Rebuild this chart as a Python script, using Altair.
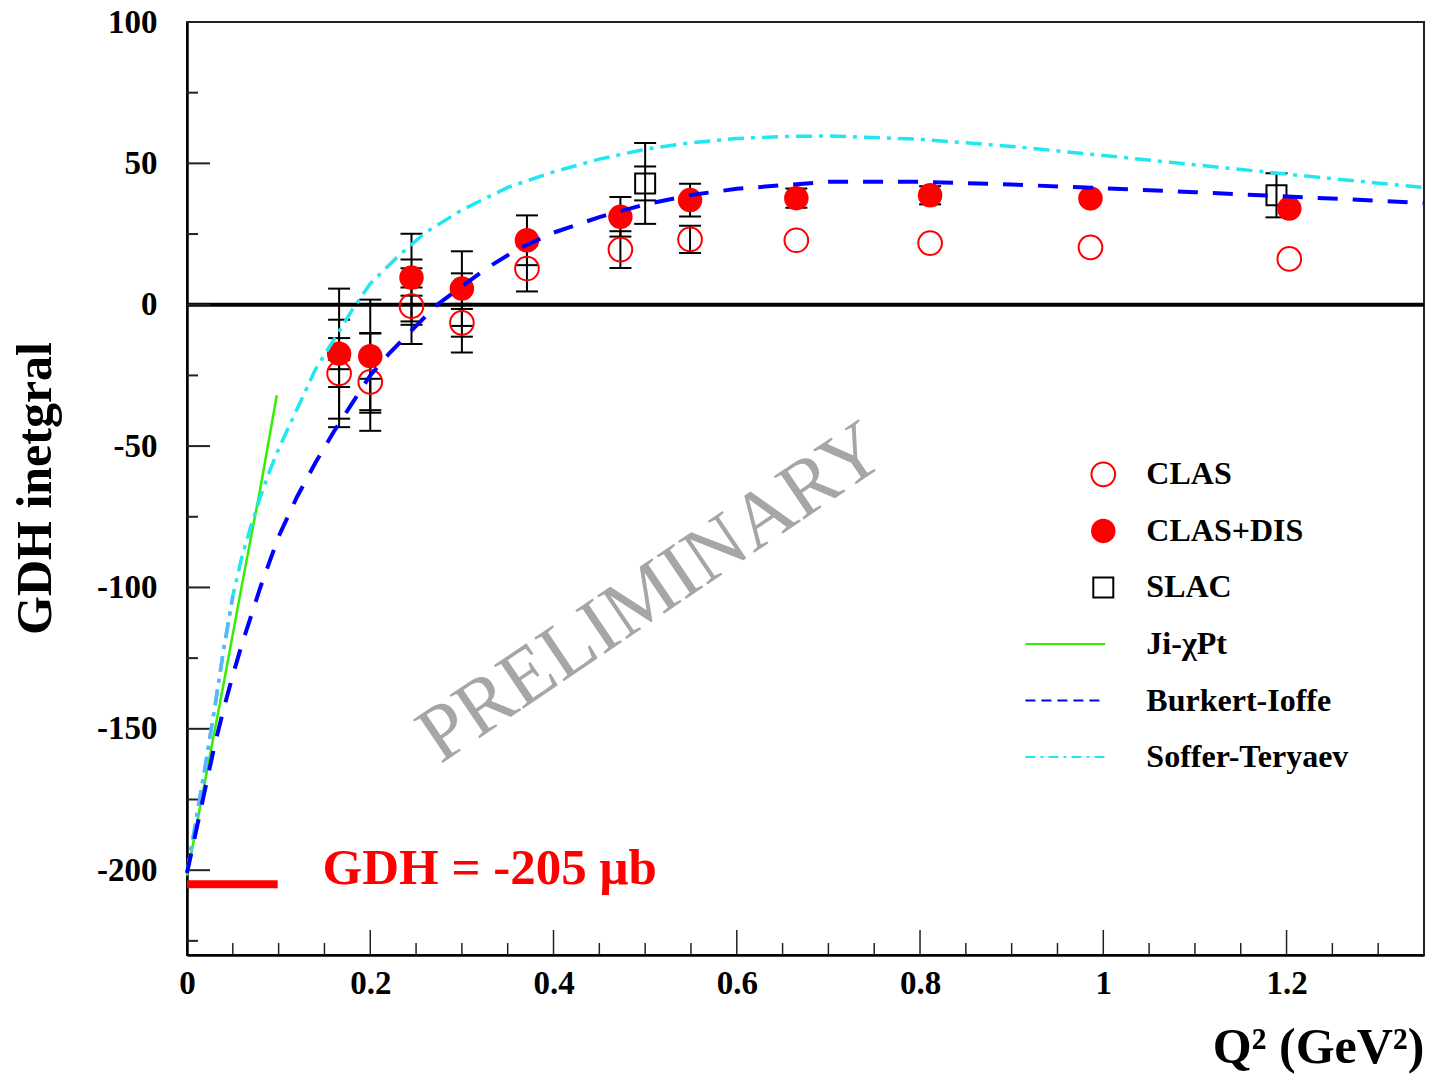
import altair as alt
import pandas as pd

# ---------------- data ----------------
q2_clas = [0.166, 0.200, 0.245, 0.300, 0.371, 0.473, 0.549, 0.665, 0.811, 0.986, 1.203]
gdh_clas = [-24.3, -27.3, -0.5, -6.4, 12.8, 19.5, 23.1, 22.8, 21.8, 20.3, 16.2]
err_clas_tot = [19.0, 17.3, 13.4, 10.5, 8.1, 6.5, 4.8, 0, 0, 0, 0]
err_clas_stat = [4.8, 10.0, 6.6, 4.9, 0, 0, 0, 0, 0, 0, 0]

gdh_dis = [-17.3, -18.2, 9.6, 5.7, 22.8, 31.1, 37.0, 37.7, 38.7, 37.6, 34.0]
err_dis_tot = [23.0, 20.0, 15.5, 13.2, 8.8, 7.0, 5.8, 3.4, 3.2, 0, 0]
err_dis_stat = [5.5, 8.0, 6.4, 5.4, 0, 0, 0, 0, 0, 0, 0]

q2_slac = [0.500, 1.189]
gdh_slac = [42.9, 38.7]
err_slac_tot = [14.3, 7.8]
err_slac_stat = [6.0, 0]

q2_bi = [0, 0.01, 0.02, 0.03, 0.04, 0.05, 0.06, 0.08, 0.10, 0.12, 0.14, 0.16, 0.18,
         0.20, 0.22, 0.25, 0.273, 0.30, 0.33, 0.36, 0.40, 0.45, 0.50, 0.55, 0.60,
         0.70, 0.80, 0.90, 1.00, 1.10, 1.20, 1.30, 1.35]
gdh_bi = [-201, -186, -171, -156, -143, -131, -120, -100, -82, -68, -56, -45, -35,
          -25, -17.5, -7.5, 0, 6.5, 13.5, 19.5, 25.5, 31, 35.5, 38.8, 41,
          43.5, 43.5, 42.5, 41.2, 39.8, 38.3, 36.8, 36]

q2_st = [0, 0.01, 0.02, 0.03, 0.04, 0.05, 0.06, 0.07, 0.08, 0.09, 0.10, 0.12, 0.14,
         0.16, 0.18, 0.20, 0.23, 0.26, 0.30, 0.35, 0.40, 0.45, 0.50, 0.55, 0.60,
         0.65, 0.70, 0.80, 0.90, 1.00, 1.10, 1.20, 1.30, 1.35]
gdh_st = [-201, -182, -163, -143, -122, -103, -89, -78, -68, -59, -51, -37, -23,
          -12.5, -2, 7.5, 17, 25.5, 33.5, 41.5, 47, 51.5, 55, 57.3, 58.8,
          59.5, 59.7, 58.5, 56, 52.8, 49.5, 46.2, 43, 41.5]

q2_ji = [0, 0.02, 0.04, 0.06, 0.08, 0.098]
gdh_ji = [-202, -168, -134, -99, -65, -32]

gdh_sum = -205
gdh_sum_q2 = [0, 0.099]

x_major = [0, 0.2, 0.4, 0.6, 0.8, 1.0, 1.2]
x_minor = [k / 20 for k in range(1, 27) if k % 4 != 0]
y_major = [-200, -150, -100, -50, 0, 50, 100]
y_minor = [-225, -175, -125, -75, -25, 25, 75]

legend_labels = ["CLAS", "CLAS+DIS", "SLAC", "Ji-\u03c7Pt", "Burkert-Ioffe", "Soffer-Teryaev"]

# ---------------- layout ----------------
W, H = 1237, 933
FONT = "Liberation Serif"
xs = alt.Scale(domain=[0, 1.35], nice=False, zero=False)
ys = alt.Scale(domain=[-230, 100], nice=False, zero=False)

AX_X = alt.Axis(values=x_major, labelExpr="toString(datum.value)", labelFlush=False,
                title="Q\u00b2 (GeV\u00b2)",
                titleX=W, titleY=107, titleAlign="right", titleBaseline="alphabetic")
AX_Y = alt.Axis(values=y_major, labelExpr="toString(datum.value)", labelFlush=False,
                title="GDH inetgral",
                titleX=-137, titleY=466, titleAngle=270, titleAlign="center",
                titleBaseline="alphabetic")


def X(f):
    return alt.X(f, type="quantitative", scale=xs, axis=AX_X)


def Y(f):
    return alt.Y(f, type="quantitative", scale=ys, axis=AX_Y)


# error bars
def err_rows(q, y, e):
    return [dict(x=a, lo=b - c, hi=b + c) for a, b, c in zip(q, y, e) if c > 0]


bars = pd.DataFrame(err_rows(q2_clas, gdh_clas, err_clas_tot)
                    + err_rows(q2_clas, gdh_dis, err_dis_tot)
                    + err_rows(q2_slac, gdh_slac, err_slac_tot))
inner = pd.DataFrame(err_rows(q2_clas, gdh_clas, err_clas_stat)
                     + err_rows(q2_clas, gdh_dis, err_dis_stat)
                     + err_rows(q2_slac, gdh_slac, err_slac_stat))
caps_src = pd.concat([bars, inner])
caps = pd.concat([caps_src[["x"]].assign(y=caps_src["lo"]),
                  caps_src[["x"]].assign(y=caps_src["hi"])])

clas = pd.DataFrame({"x": q2_clas, "y": gdh_clas})
dis = pd.DataFrame({"x": q2_clas, "y": gdh_dis})
slac = pd.DataFrame({"x": q2_slac, "y": gdh_slac})
bi = pd.DataFrame({"x": q2_bi, "y": gdh_bi})
st = pd.DataFrame({"x": q2_st, "y": gdh_st})
ji = pd.DataFrame({"x": q2_ji, "y": gdh_ji})

layers = []

# zero line
layers.append(alt.Chart(pd.DataFrame({"y": [0]})).mark_rule(color="black", strokeWidth=4)
              .encode(y=Y("y"), x=alt.value(0), x2=alt.value(W)))

# inward ticks
layers.append(alt.Chart(pd.DataFrame({"t": x_major[1:]})).mark_rule(color="#222", strokeWidth=1.5)
              .encode(x=X("t"), y=alt.value(H), y2=alt.value(H - 25)))
layers.append(alt.Chart(pd.DataFrame({"t": x_minor})).mark_rule(color="#222", strokeWidth=1.5)
              .encode(x=X("t"), y=alt.value(H), y2=alt.value(H - 12)))
layers.append(alt.Chart(pd.DataFrame({"t": y_major})).mark_rule(color="#222", strokeWidth=2)
              .encode(y=Y("t"), x=alt.value(0), x2=alt.value(23)))
layers.append(alt.Chart(pd.DataFrame({"t": y_minor})).mark_rule(color="#222", strokeWidth=2)
              .encode(y=Y("t"), x=alt.value(0), x2=alt.value(11)))

# GDH sum rule bar
layers.append(alt.Chart(pd.DataFrame({"x": gdh_sum_q2[:1], "x2": gdh_sum_q2[1:], "y": [gdh_sum]}))
              .mark_rule(color="#ff0000", strokeWidth=8)
              .encode(x=X("x"), x2="x2", y=Y("y")))

# error bars
layers.append(alt.Chart(bars).mark_rule(color="black", strokeWidth=2)
              .encode(x=X("x"), y=Y("lo"), y2="hi"))
layers.append(alt.Chart(caps).mark_tick(orient="horizontal", size=22, thickness=2,
                                        color="black", opacity=1)
              .encode(x=X("x"), y=Y("y")))

# markers
layers.append(alt.Chart(slac).mark_point(shape="square", filled=False, size=400,
                                         stroke="black", strokeWidth=2, opacity=1)
              .encode(x=X("x"), y=Y("y")))
layers.append(alt.Chart(clas).mark_point(shape="circle", filled=False, size=560,
                                         stroke="#ff0000", strokeWidth=2, opacity=1)
              .encode(x=X("x"), y=Y("y")))
layers.append(alt.Chart(dis).mark_circle(size=600, color="#ff0000", opacity=1)
              .encode(x=X("x"), y=Y("y")))

# theory curves
layers.append(alt.Chart(ji).mark_line(color="#33ee00", strokeWidth=2.5)
              .encode(x=X("x"), y=Y("y")))
layers.append(alt.Chart(st).mark_line(color="#22e6f0", strokeWidth=3.5, strokeDash=[16, 7, 4, 7])
              .encode(x=X("x"), y=Y("y")))
layers.append(alt.Chart(st).transform_filter("datum.x <= 0.05")
              .mark_line(color="#5ab4ff", strokeWidth=3.5, strokeDash=[16, 7, 4, 7])
              .encode(x=X("x"), y=Y("y")))
layers.append(alt.Chart(bi).mark_line(color="#0000ff", strokeWidth=4, strokeDash=[20, 15])
              .encode(x=X("x"), y=Y("y")))

# annotations
layers.append(alt.Chart(pd.DataFrame({"x": [0.148], "y": [gdh_sum], "t": ["GDH = -205 \u03bcb"]}))
              .mark_text(align="left", baseline="alphabetic", font=FONT, fontSize=51,
                         fontWeight="bold", color="#ff0000")
              .encode(x=X("x"), y=Y("y"), text="t:N"))
layers.append(alt.Chart(pd.DataFrame({"x": [0.507], "y": [-102], "t": ["PRELIMINARY"]}))
              .mark_text(align="center", baseline="middle", font=FONT, fontSize=80,
                         angle=326, color="#a6a6a6")
              .encode(x=X("x"), y=Y("y"), text="t:N"))

# legend (drawn inside the frame)
leg_y = [-60, -80, -100, -120, -140, -160]
leg_mx, leg_tx, leg_l0, leg_l1 = 1.0, 1.047, 0.915, 1.002
layers.append(alt.Chart(pd.DataFrame({"x": [leg_mx], "y": [leg_y[0]]}))
              .mark_point(shape="circle", filled=False, size=560, stroke="#ff0000",
                          strokeWidth=2, opacity=1).encode(x=X("x"), y=Y("y")))
layers.append(alt.Chart(pd.DataFrame({"x": [leg_mx], "y": [leg_y[1]]}))
              .mark_circle(size=600, color="#ff0000", opacity=1).encode(x=X("x"), y=Y("y")))
layers.append(alt.Chart(pd.DataFrame({"x": [leg_mx], "y": [leg_y[2]]}))
              .mark_point(shape="square", filled=False, size=400, stroke="black",
                          strokeWidth=2, opacity=1).encode(x=X("x"), y=Y("y")))
for i, (col, dash) in enumerate([("#33ee00", None), ("#0000ff", [10, 6]),
                                 ("#22e6f0", [10, 5, 3, 5])]):
    kw = dict(color=col, strokeWidth=2)
    if dash:
        kw["strokeDash"] = dash
    layers.append(alt.Chart(pd.DataFrame({"x": [leg_l0, leg_l1], "y": [leg_y[3 + i]] * 2}))
                  .mark_line(**kw).encode(x=X("x"), y=Y("y")))
layers.append(alt.Chart(pd.DataFrame({"x": [leg_tx] * 6, "y": leg_y, "t": legend_labels}))
              .mark_text(align="left", baseline="middle", font=FONT, fontSize=32,
                         fontWeight="bold", color="black")
              .encode(x=X("x"), y=Y("y"), text="t:N"))

chart = alt.layer(*layers).properties(
    width=W, height=H,
    autosize=alt.AutoSizeParams(type="none"),
    padding={"left": 187, "top": 22, "right": 16, "bottom": 121},
    background="white",
).configure_view(
    stroke="#222", strokeWidth=2
).configure_axis(
    grid=False, ticks=False, tickSize=0, domain=True, domainColor="black", domainWidth=2.5,
    labelFont=FONT, labelFontWeight="bold", labelFontSize=33, labelColor="black",
    titleFont=FONT, titleFontWeight="bold", titleFontSize=50, titleColor="black",
).configure_axisX(
    labelPadding=12
).configure_axisY(
    labelPadding=30
)

chart.save("out.html", embed_options={"renderer": "svg", "actions": False})
